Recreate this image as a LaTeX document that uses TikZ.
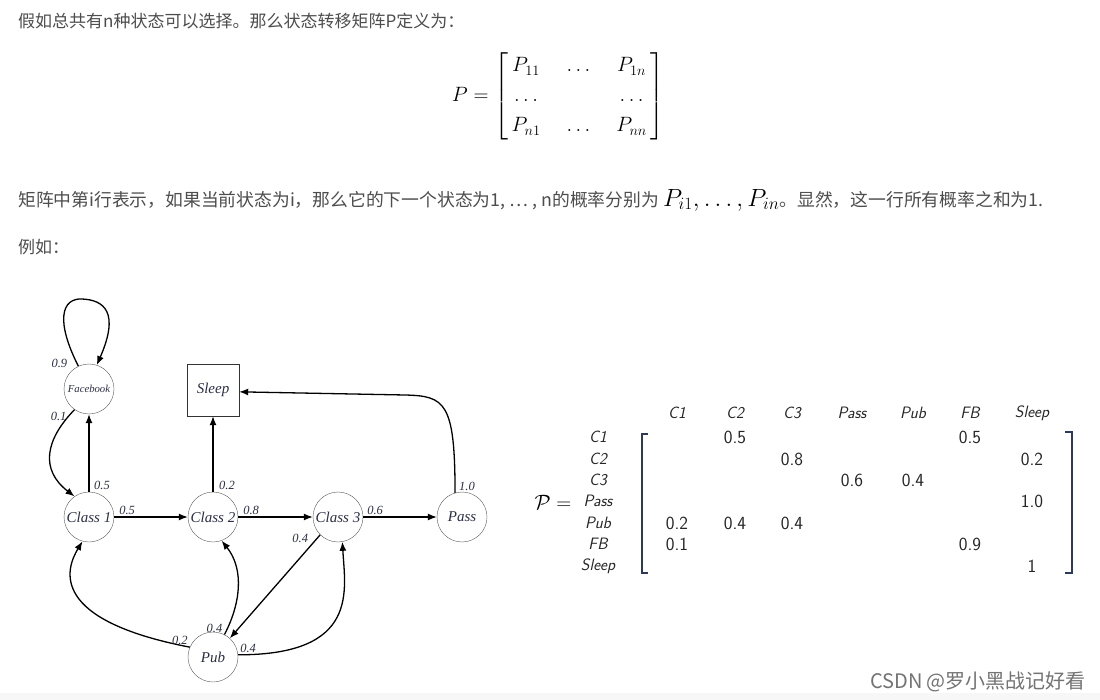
\documentclass[tikz,border=0pt]{standalone}
\usepackage{amsmath}
\usepackage{fontspec}
\newfontfamily\cjk{Noto Sans CJK SC}
\newfontfamily\diagfont{Liberation Serif}
\usetikzlibrary{arrows.meta}

\definecolor{bodytext}{HTML}{4D4D4D}
\definecolor{labelink}{HTML}{2B2F45}
\definecolor{brackink}{HTML}{2E3A5C}

\begin{document}
\begin{tikzpicture}[
  x=1pt, y=-1pt,
  >={Latex[length=9pt,width=7pt]},
  every node/.style={inner sep=0pt},
  para/.style={anchor=west,font=\cjk\fontsize{17}{20}\selectfont,text=bodytext},
  state/.style={draw=black!65,circle,minimum size=50pt,font=\diagfont\itshape\fontsize{15}{15}\selectfont,text=labelink},
  endstate/.style={draw=black!80,rectangle,minimum size=52pt,font=\diagfont\itshape\fontsize{15}{15}\selectfont,text=labelink},
  link/.style={->,line width=1.3pt},
  prob/.style={font=\diagfont\itshape\fontsize{12.5}{12.5}\selectfont,text=labelink,inner sep=1.5pt},
  head/.style={font=\sffamily\itshape\fontsize{16.5}{16.5}\selectfont,text=black!85},
  val/.style={font=\sffamily\fontsize{18.5}{18.5}\selectfont,text=black!85},
  bracket/.style={draw=brackink,line width=1.6pt}
]
  \useasboundingbox[fill=white] (0,0) rectangle (1100,700);
  \fill[black!3] (0,693) rectangle (1100,700);

  % text of the post
  \node[para] (intro) at (18,21) {假如总共有n种状态可以选择。那么状态转移矩阵P定义为：};
  \node[font=\fontsize{21}{25}\selectfont] (pdef) at (558,96)
    {\renewcommand\arraystretch{1.2}$P = \left[\begin{array}{@{\,}c@{\hspace{26pt}}c@{\hspace{26pt}}c@{\,}}
      P_{11} & \ldots & P_{1n}\\
      \ldots &        & \ldots\\
      P_{n1} & \ldots & P_{nn}
    \end{array}\right]$};
  \node[para,font=\cjk\fontsize{17.8}{20}\selectfont] (rowsum) at (18,200) {矩阵中第i行表示，如果当前状态为i，那么它的下一个状态为1, … , n的概率分别为 {\color{black}\fontsize{24}{24}\selectfont$P_{i1},\ldots,P_{in}$}。显然，这一行所有概率之和为1.};
  \node[para] (example) at (18,247) {例如：};

  % student chain
  \node[state,font=\diagfont\itshape\fontsize{10.7}{10.7}\selectfont] (fb) at (89,389) {Facebook};
  \node[endstate] (sleep) at (213,390) {Sleep};
  \node[state] (c1) at (89,517) {Class 1};
  \node[state] (c2) at (213,517) {Class 2};
  \node[state] (c3) at (338,517) {Class 3};
  \node[state] (pass) at (462,517) {Pass};
  \node[state] (pub) at (213,657) {Pub};

  \draw[link] (fb.115) node[prob,anchor=east,xshift=-9pt,yshift=3pt] (p-fb-fb) {0.9}
    .. controls (55,320) and (62,298) .. (82,299)
    .. controls (104,300) and (120,312) .. (fb.72);
  \draw[link] (fb.235) node[prob,anchor=north east,xshift=-6pt] (p-fb-c1) {0.1}
    .. controls (45,440) and (40,470) .. (c1.125);
  \draw[link] (c1) -- node[prob,pos=0,anchor=south west,xshift=3pt] (p-c1-fb) {0.5} (fb);
  \draw[link] (c1) -- node[prob,pos=0,anchor=south west,xshift=3pt] (p-c1-c2) {0.5} (c2);
  \draw[link] (c2) -- node[prob,pos=0,anchor=south west,xshift=4pt] (p-c2-sleep) {0.2} (sleep);
  \draw[link] (c2) -- node[prob,pos=0,anchor=south west,xshift=3pt] (p-c2-c3) {0.8} (c3);
  \draw[link] (c3) -- node[prob,pos=0,anchor=south west,xshift=2pt] (p-c3-pass) {0.6} (pass);
  \draw[link] (pass.106) node[prob,anchor=south west,xshift=2pt] (p-pass-sleep) {1.0}
    .. controls (455,402) and (445,396) .. (405,395) -- (sleep.-4);
  \draw[link] (c3.225) node[prob,anchor=east,xshift=-10pt,yshift=-4pt] (p-c3-pub) {0.4} -- (pub.48);
  \draw[link] (pub.157) node[prob,anchor=south east] (p-pub-c1) {0.2}
    .. controls (50,620) and (65,570) .. (c1.255);
  \draw[link] (pub.63) node[prob,anchor=south east] (p-pub-c2) {0.4}
    .. controls (240,605) and (245,570) .. (c2.290);
  \draw[link] (pub.5) node[prob,anchor=south west] (p-pub-c3) {0.4}
    .. controls (360,655) and (345,590) .. (c3.280);

  % transition matrix
  \node[font=\fontsize{20}{20}\selectfont] (calp) at (553,502) {$\mathcal{P} =$};
  \foreach \name/\x in {C1/677,C2/735,C3/792,Pass/852,Pub/913,FB/970,Sleep/1032}
    \node[head] (col-\name) at (\x,413) {\name};
  \foreach \name/\y in {C1/437,C2/459,C3/480,Pass/501,Pub/523,FB/544,Sleep/566}
    \node[head] (row-\name) at (598,\y) {\name};
  \node[val] (v-C1-C2) at (col-C2 |- row-C1) {0.5};
  \node[val] (v-C1-FB) at (col-FB |- row-C1) {0.5};
  \node[val] (v-C2-C3) at (col-C3 |- row-C2) {0.8};
  \node[val] (v-C2-Sleep) at (col-Sleep |- row-C2) {0.2};
  \node[val] (v-C3-Pass) at (col-Pass |- row-C3) {0.6};
  \node[val] (v-C3-Pub) at (col-Pub |- row-C3) {0.4};
  \node[val] (v-Pass-Sleep) at (col-Sleep |- row-Pass) {1.0};
  \node[val] (v-Pub-C1) at (col-C1 |- row-Pub) {0.2};
  \node[val] (v-Pub-C2) at (col-C2 |- row-Pub) {0.4};
  \node[val] (v-Pub-C3) at (col-C3 |- row-Pub) {0.4};
  \node[val] (v-FB-C1) at (col-C1 |- row-FB) {0.1};
  \node[val] (v-FB-FB) at (col-FB |- row-FB) {0.9};
  \node[val] (v-Sleep-Sleep) at (col-Sleep |- row-Sleep) {1};
  \draw[bracket] (648,434) -- (642,434) -- (642,573) -- (648,573);
  \draw[bracket] (1065,432) -- (1072,432) -- (1072,573) -- (1065,573);

  \node[font=\cjk\fontsize{20}{20}\selectfont,text=black!55] (mark) at (978,682) {CSDN @罗小黑战记好看};
\end{tikzpicture}
\end{document}
